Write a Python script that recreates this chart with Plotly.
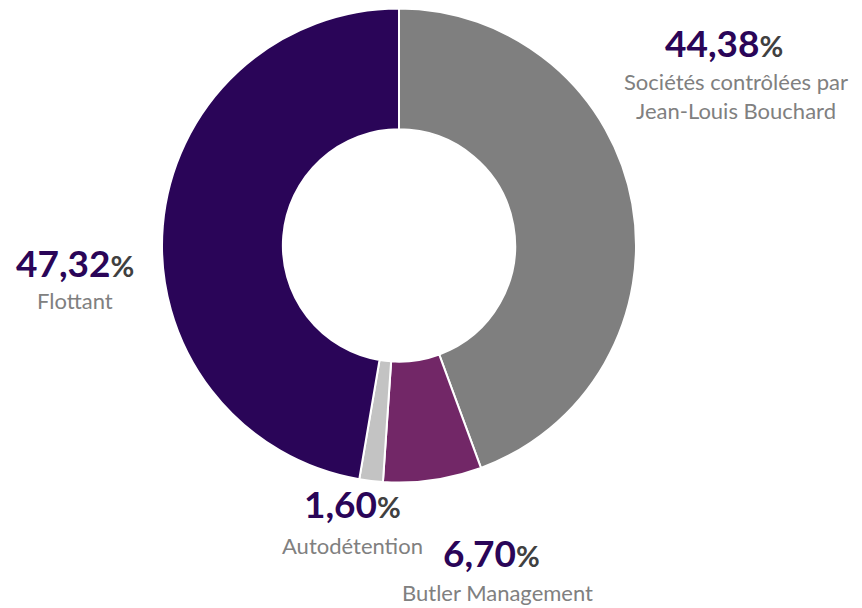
import plotly.graph_objects as go

## data
labels = ['Sociétés contrôlées par<br>Jean-Louis Bouchard', 'Butler Management', 'Autodétention', 'Flottant']
values = [44.38, 6.70, 1.60, 47.32]
value_txt = ['44,38', '6,70', '1,60', '47,32']
colors = ['#7f7f7f', '#722767', '#c3c3c3', '#2a0558']

W, H = 862, 608
OFF = 8  # page body margin

## label positions in screen pixels (number centre, label centre)
pos = [(724, 42, 736, 96), (491, 552, 497, 592), (352, 503, 352, 545), (75, 263, 75, 300)]

def px(x):
    return (x - OFF) / W

def py(y):
    return 1 - (y - OFF) / H

fig = go.Figure(data=[go.Pie(labels=labels,
                             values=values,
                             marker=dict(colors=colors, line=dict(color='white', width=2)),
                             hole=0.49,
                             sort=False,
                             direction='clockwise',
                             rotation=0,
                             textinfo='none',
                             hoverinfo='label+percent',
                             showlegend=False,
                             domain=dict(x=[px(162), px(636)], y=[py(483), py(8)]))])

annots = []
for i in range(len(labels)):
    nx, ny, lx, ly = pos[i]
    annots.append(dict(x=px(nx), y=py(ny), xref='paper', yref='paper', showarrow=False,
                       xanchor='center', yanchor='middle',
                       text='<b>'+value_txt[i]+'</b><span style="font-size:29px;color:#404040"><b>%</b></span>',
                       font=dict(family='Lato', size=37, color='#2a0558')))
    annots.append(dict(x=px(lx), y=py(ly), xref='paper', yref='paper', showarrow=False,
                       xanchor='center', yanchor='middle',
                       text=labels[i],
                       font=dict(family='Lato', size=22, color='#808080')))

fig.update_layout(width=W, height=H,
                  margin=dict(l=0, r=0, t=0, b=0),
                  paper_bgcolor='white',
                  plot_bgcolor='white',
                  annotations=annots)

fig.write_html("out.html")
